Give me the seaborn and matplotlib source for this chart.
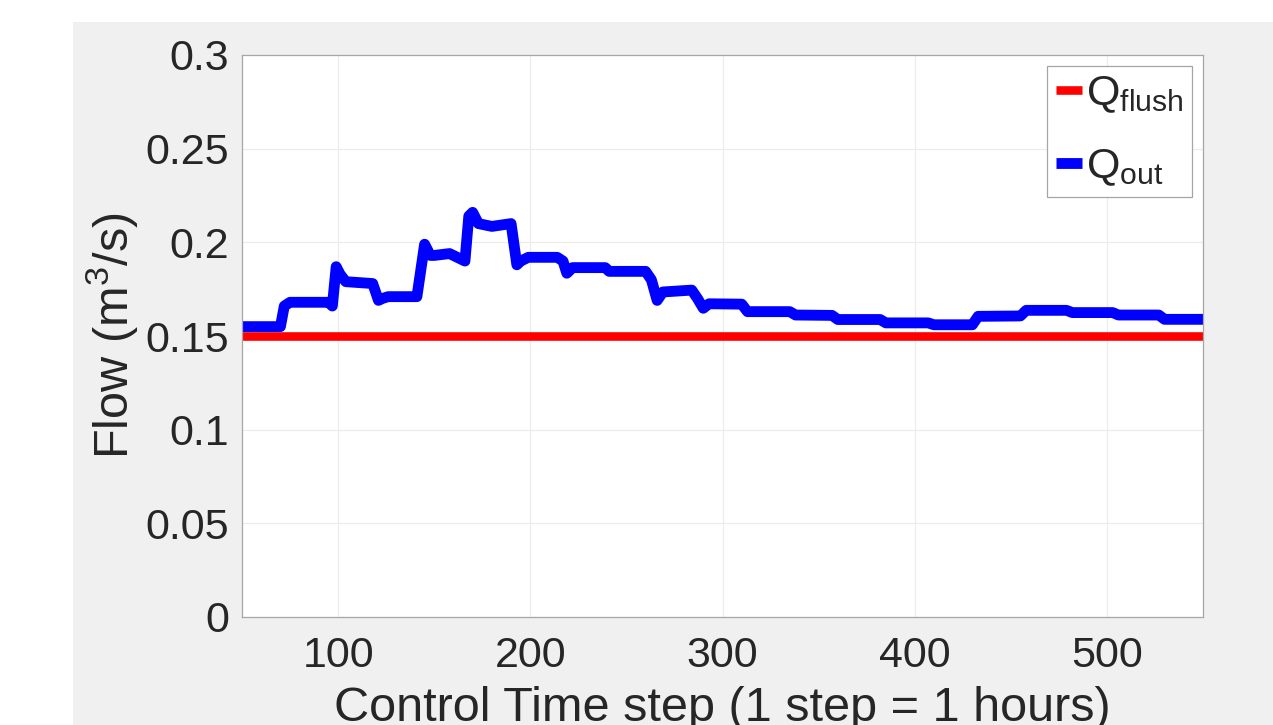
import numpy as np
import pandas as pd
import matplotlib
matplotlib.use("Agg")
import matplotlib.pyplot as plt
import seaborn as sns
from matplotlib.patches import Rectangle

# ---- data ----
time_steps = [50, 70, 72, 75, 95, 97, 99, 101, 104, 118, 121, 123, 126, 141, 145, 148,
              150, 158, 166, 168, 170, 173, 180, 190, 193, 195, 199, 214, 217, 219, 222,
              239, 241, 260, 263, 266, 269, 284, 287, 290, 293, 310, 313, 335, 338, 357,
              360, 382, 385, 407, 410, 430, 433, 455, 458, 479, 482, 503, 506, 527, 530, 550]
q_out = [0.155, 0.155, 0.166, 0.168, 0.168, 0.166, 0.187, 0.183, 0.179, 0.178, 0.169, 0.170,
         0.171, 0.171, 0.199, 0.193, 0.193, 0.194, 0.190, 0.214, 0.216, 0.210, 0.2085, 0.210,
         0.188, 0.190, 0.192, 0.192, 0.190, 0.1835, 0.1865, 0.1865, 0.1845, 0.1845, 0.180,
         0.169, 0.1735, 0.1745, 0.170, 0.1648, 0.1672, 0.167, 0.163, 0.163, 0.1612, 0.161,
         0.1588, 0.1588, 0.157, 0.157, 0.156, 0.156, 0.1605, 0.1607, 0.1637, 0.1637, 0.1625,
         0.1625, 0.1612, 0.1612, 0.1589, 0.1589]
flush_steps = [50, 550]
q_flush = [0.15, 0.15]

x_ticks = [100, 200, 300, 400, 500]
y_ticks = [0, 0.05, 0.1, 0.15, 0.2, 0.25, 0.3]
y_tick_labels = ["0", "0.05", "0.1", "0.15", "0.2", "0.25", "0.3"]

sns.set_style("white")
plt.rcParams["font.family"] = ["Liberation Sans", "DejaVu Sans"]
plt.rcParams["mathtext.fontset"] = "custom"
plt.rcParams["mathtext.rm"] = "Liberation Sans"
plt.rcParams["mathtext.it"] = "Liberation Sans"

fig = plt.figure(figsize=(12.73, 7.25), dpi=100, facecolor="white")
bg = Rectangle((73 / 1273, 0), 1.0, (725 - 22) / 725,
               transform=fig.transFigure, facecolor="#f0f0f0",
               edgecolor="none", zorder=-10)
fig.patches.append(bg)
ax = fig.add_axes([242 / 1273, (725 - 617) / 725, (1203 - 242) / 1273, (617 - 55) / 725])
ax.set_zorder(1)
ax.set_facecolor("white")

df_flush = pd.DataFrame({"t": flush_steps, "q": q_flush})
df_out = pd.DataFrame({"t": time_steps, "q": q_out})
sns.lineplot(data=df_flush, x="t", y="q", ax=ax, color="#ff0000", linewidth=6.2,
             label=r"$\mathrm{Q}_{\mathrm{flush}}$", solid_capstyle="butt")
sns.lineplot(data=df_out, x="t", y="q", ax=ax, color="#0000ff", linewidth=7.8,
             label=r"$\mathrm{Q}_{\mathrm{out}}$", solid_joinstyle="round",
             solid_capstyle="butt")

ax.set_xlim(50, 550)
ax.set_ylim(0, 0.3)
ax.set_xticks(x_ticks)
ax.set_yticks(y_ticks)
ax.set_yticklabels(y_tick_labels)
ax.grid(True, color="#ebebeb", linewidth=0.8)
ax.set_axisbelow(True)
for s in ax.spines.values():
    s.set_color("#a6a6a6")
    s.set_linewidth(0.9)
ax.tick_params(direction="in", length=8, width=0.8, color="#a6a6a6",
               labelsize=31, labelcolor="#262626", top=False, right=False)
ax.tick_params(axis="y", pad=9)
ax.tick_params(axis="x", pad=14)

ax.set_xlabel("Control Time step (1 step = 1 hours)", fontsize=35, color="#262626",
              labelpad=7)
ax.set_ylabel(r"Flow (m$^3$/s)", fontsize=35, color="#262626", labelpad=4)

leg = ax.legend(loc="upper right", fontsize=31, handlelength=0.6, handletextpad=0.1,
                borderpad=0.2, labelspacing=0.75, borderaxespad=0.25, frameon=True,
                fancybox=False, edgecolor="#a6a6a6", framealpha=1)
leg.get_frame().set_linewidth(0.9)

fig.savefig("out.png", dpi=100, facecolor=fig.get_facecolor())
